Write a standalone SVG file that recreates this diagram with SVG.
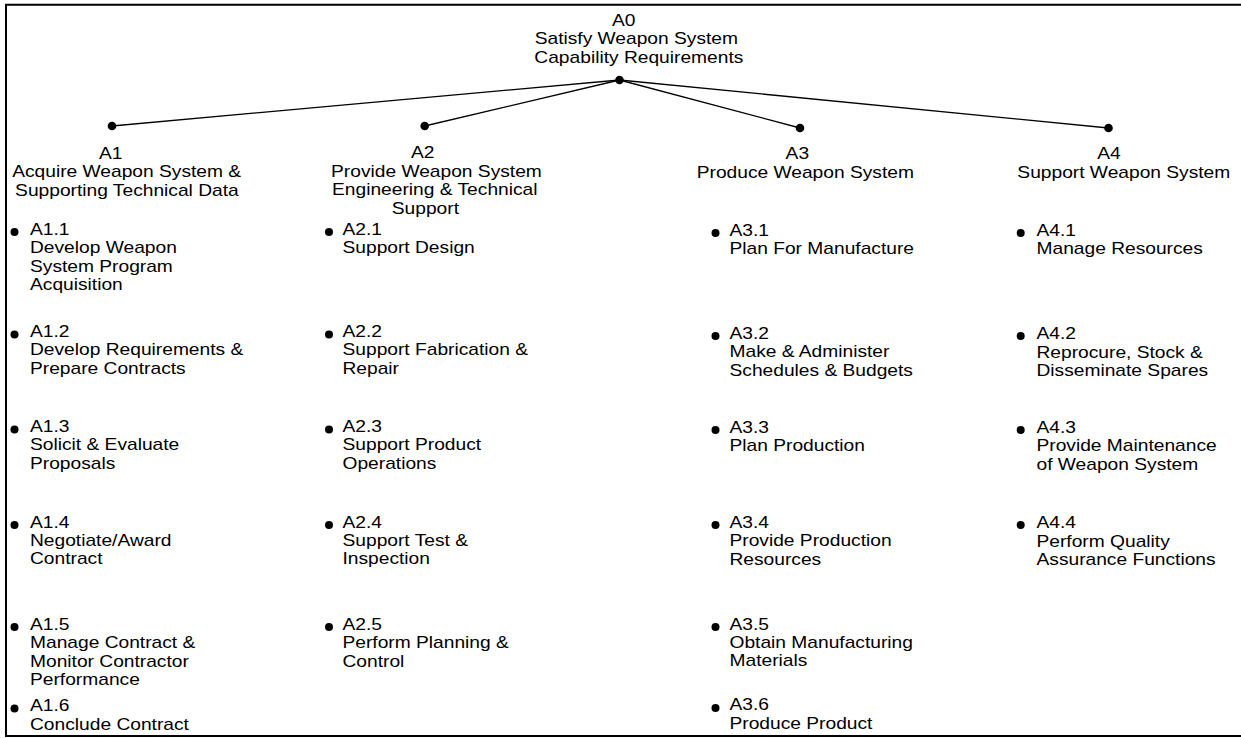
<svg xmlns="http://www.w3.org/2000/svg" width="1241" height="738" viewBox="0 0 1241 738">
  <style>
    text { font-family: "Liberation Sans", Arial, sans-serif; font-size: 16px; fill: #000; }
    .frame { fill: none; stroke: #000; stroke-width: 2; }
    .link { stroke: #000; stroke-width: 1.3; fill: none; }
    .dot { fill: #000; }
  </style>

  <!-- page frame (open on the right) -->
  <path class="frame" d="M1241,4.7 H6 V736 H1241"/>

  <!-- connectors from the root to the four branches -->
  <g id="connectors">
    <line class="link" x1="619.5" y1="80" x2="112" y2="126"/>
    <line class="link" x1="619.5" y1="80" x2="424.7" y2="126"/>
    <line class="link" x1="619.5" y1="80" x2="800" y2="128"/>
    <line class="link" x1="619.5" y1="80" x2="1108.5" y2="128"/>
  </g>

  <!-- root -->
  <g id="A0">
    <circle class="dot" cx="619.5" cy="80" r="4.3"/>
    <g transform="scale(1.2 1)">
      <text x="510" y="26">A0</text>
      <text x="445.6" y="44.4">Satisfy Weapon System</text>
      <text x="445.3" y="62.7">Capability Requirements</text>
    </g>
  </g>

  <!-- first level -->
  <g id="A1">
    <circle class="dot" cx="112" cy="126" r="4.3"/>
    <g transform="scale(1.2 1)">
      <text x="82.5" y="159.3">A1</text>
      <text x="10.2" y="177.5">Acquire Weapon System &amp;</text>
      <text x="12.6" y="195.7">Supporting Technical Data</text>
    </g>
  </g>
  <g id="A2">
    <circle class="dot" cx="424.7" cy="126" r="4.3"/>
    <g transform="scale(1.2 1)">
      <text x="342.5" y="158.5">A2</text>
      <text x="275.9" y="176.8">Provide Weapon System</text>
      <text x="276.7" y="195.2">Engineering &amp; Technical</text>
      <text x="326.5" y="213.6">Support</text>
    </g>
  </g>
  <g id="A3">
    <circle class="dot" cx="800" cy="128" r="4.3"/>
    <g transform="scale(1.2 1)">
      <text x="654.7" y="159.3">A3</text>
      <text x="580.6" y="177.7">Produce Weapon System</text>
    </g>
  </g>
  <g id="A4">
    <circle class="dot" cx="1108.5" cy="128" r="4.3"/>
    <g transform="scale(1.2 1)">
      <text x="914.4" y="159.3">A4</text>
      <text x="847.8" y="177.7">Support Weapon System</text>
    </g>
  </g>

  <!-- A1 children -->
  <g id="A1.1">
    <circle class="dot" cx="14.5" cy="232" r="4"/>
    <text transform="translate(30 234.8) scale(1.2 1)"><tspan x="0" y="0">A1.1</tspan><tspan x="0" dy="18.4">Develop Weapon</tspan><tspan x="0" dy="18.4">System Program</tspan><tspan x="0" dy="18.4">Acquisition</tspan></text>
  </g>
  <g id="A1.2">
    <circle class="dot" cx="14.5" cy="334.5" r="4"/>
    <text transform="translate(30 337) scale(1.2 1)"><tspan x="0" y="0">A1.2</tspan><tspan x="0" dy="18.4">Develop Requirements &amp;</tspan><tspan x="0" dy="18.4">Prepare Contracts</tspan></text>
  </g>
  <g id="A1.3">
    <circle class="dot" cx="14.5" cy="429.5" r="4"/>
    <text transform="translate(30 432) scale(1.2 1)"><tspan x="0" y="0">A1.3</tspan><tspan x="0" dy="18.4">Solicit &amp; Evaluate</tspan><tspan x="0" dy="18.4">Proposals</tspan></text>
  </g>
  <g id="A1.4">
    <circle class="dot" cx="14.5" cy="525" r="4"/>
    <text transform="translate(30 527.7) scale(1.2 1)"><tspan x="0" y="0">A1.4</tspan><tspan x="0" dy="18.4">Negotiate/Award</tspan><tspan x="0" dy="18.4">Contract</tspan></text>
  </g>
  <g id="A1.5">
    <circle class="dot" cx="14.5" cy="627" r="4"/>
    <text transform="translate(30 630) scale(1.2 1)"><tspan x="0" y="0">A1.5</tspan><tspan x="0" dy="18.4">Manage Contract &amp;</tspan><tspan x="0" dy="18.4">Monitor Contractor</tspan><tspan x="0" dy="18.4">Performance</tspan></text>
  </g>
  <g id="A1.6">
    <circle class="dot" cx="14.5" cy="708.5" r="4"/>
    <text transform="translate(30 711.3) scale(1.2 1)"><tspan x="0" y="0">A1.6</tspan><tspan x="0" dy="18.4">Conclude Contract</tspan></text>
  </g>

  <!-- A2 children -->
  <g id="A2.1">
    <circle class="dot" cx="329" cy="232" r="4"/>
    <text transform="translate(342.5 234.8) scale(1.2 1)"><tspan x="0" y="0">A2.1</tspan><tspan x="0" dy="18.4">Support Design</tspan></text>
  </g>
  <g id="A2.2">
    <circle class="dot" cx="329" cy="334.5" r="4"/>
    <text transform="translate(342.5 337) scale(1.2 1)"><tspan x="0" y="0">A2.2</tspan><tspan x="0" dy="18.4">Support Fabrication &amp;</tspan><tspan x="0" dy="18.4">Repair</tspan></text>
  </g>
  <g id="A2.3">
    <circle class="dot" cx="329" cy="429.5" r="4"/>
    <text transform="translate(342.5 432) scale(1.2 1)"><tspan x="0" y="0">A2.3</tspan><tspan x="0" dy="18.4">Support Product</tspan><tspan x="0" dy="18.4">Operations</tspan></text>
  </g>
  <g id="A2.4">
    <circle class="dot" cx="329" cy="525" r="4"/>
    <text transform="translate(342.5 527.7) scale(1.2 1)"><tspan x="0" y="0">A2.4</tspan><tspan x="0" dy="18.4">Support Test &amp;</tspan><tspan x="0" dy="18.4">Inspection</tspan></text>
  </g>
  <g id="A2.5">
    <circle class="dot" cx="329" cy="627" r="4"/>
    <text transform="translate(342.5 630) scale(1.2 1)"><tspan x="0" y="0">A2.5</tspan><tspan x="0" dy="18.4">Perform Planning &amp;</tspan><tspan x="0" dy="18.4">Control</tspan></text>
  </g>

  <!-- A3 children -->
  <g id="A3.1">
    <circle class="dot" cx="715.5" cy="233" r="4"/>
    <text transform="translate(729.5 235.5) scale(1.2 1)"><tspan x="0" y="0">A3.1</tspan><tspan x="0" dy="18.4">Plan For Manufacture</tspan></text>
  </g>
  <g id="A3.2">
    <circle class="dot" cx="715.5" cy="336" r="4"/>
    <text transform="translate(729.5 338.8) scale(1.2 1)"><tspan x="0" y="0">A3.2</tspan><tspan x="0" dy="18.4">Make &amp; Administer</tspan><tspan x="0" dy="18.4">Schedules &amp; Budgets</tspan></text>
  </g>
  <g id="A3.3">
    <circle class="dot" cx="715.5" cy="430" r="4"/>
    <text transform="translate(729.5 432.7) scale(1.2 1)"><tspan x="0" y="0">A3.3</tspan><tspan x="0" dy="18.4">Plan Production</tspan></text>
  </g>
  <g id="A3.4">
    <circle class="dot" cx="715.5" cy="525" r="4"/>
    <text transform="translate(729.5 528) scale(1.2 1)"><tspan x="0" y="0">A3.4</tspan><tspan x="0" dy="18.4">Provide Production</tspan><tspan x="0" dy="18.4">Resources</tspan></text>
  </g>
  <g id="A3.5">
    <circle class="dot" cx="715.5" cy="627" r="4"/>
    <text transform="translate(729.5 629.5) scale(1.2 1)"><tspan x="0" y="0">A3.5</tspan><tspan x="0" dy="18.4">Obtain Manufacturing</tspan><tspan x="0" dy="18.4">Materials</tspan></text>
  </g>
  <g id="A3.6">
    <circle class="dot" cx="715.5" cy="708" r="4"/>
    <text transform="translate(729.5 710.3) scale(1.2 1)"><tspan x="0" y="0">A3.6</tspan><tspan x="0" dy="18.4">Produce Product</tspan></text>
  </g>

  <!-- A4 children -->
  <g id="A4.1">
    <circle class="dot" cx="1020.7" cy="233" r="4"/>
    <text transform="translate(1036.5 236) scale(1.2 1)"><tspan x="0" y="0">A4.1</tspan><tspan x="0" dy="18.4">Manage Resources</tspan></text>
  </g>
  <g id="A4.2">
    <circle class="dot" cx="1020.7" cy="336" r="4"/>
    <text transform="translate(1036.5 339.3) scale(1.2 1)"><tspan x="0" y="0">A4.2</tspan><tspan x="0" dy="18.4">Reprocure, Stock &amp;</tspan><tspan x="0" dy="18.4">Disseminate Spares</tspan></text>
  </g>
  <g id="A4.3">
    <circle class="dot" cx="1020.7" cy="430" r="4"/>
    <text transform="translate(1036.5 433) scale(1.2 1)"><tspan x="0" y="0">A4.3</tspan><tspan x="0" dy="18.4">Provide Maintenance</tspan><tspan x="0" dy="18.4">of Weapon System</tspan></text>
  </g>
  <g id="A4.4">
    <circle class="dot" cx="1020.7" cy="525" r="4"/>
    <text transform="translate(1036.5 528.3) scale(1.2 1)"><tspan x="0" y="0">A4.4</tspan><tspan x="0" dy="18.4">Perform Quality</tspan><tspan x="0" dy="18.4">Assurance Functions</tspan></text>
  </g>
</svg>
